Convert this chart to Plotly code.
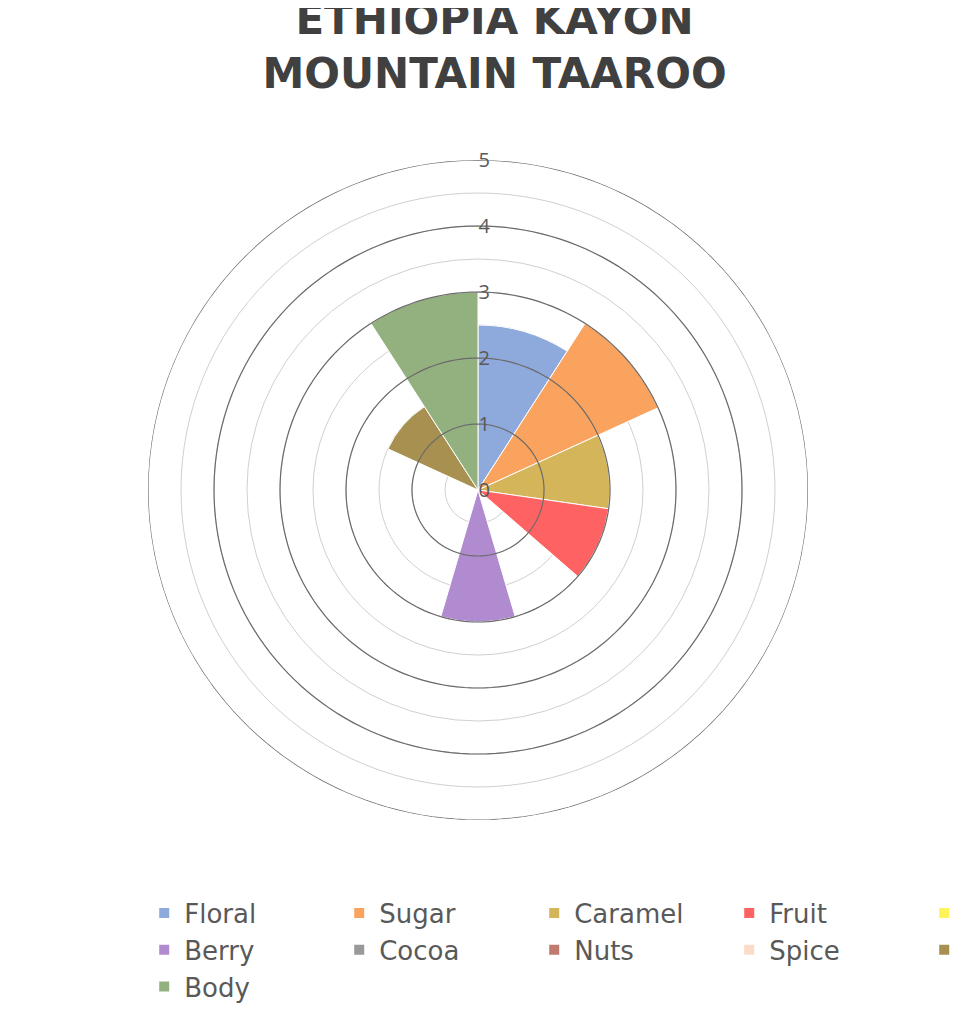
import plotly.graph_objects as go

categories = ["Floral","Sugar","Caramel","Fruit","Citrus","Berry","Cocoa","Nuts","Spice","Earthy","Body"]
values = [2.5, 3.0, 2.0, 2.0, 0, 2.0, 0, 0, 0, 1.5, 3.0]
colors = ["#8EA9DB","#F9A35F","#D4B55A","#FF6262","#FFF35A","#B08BD0","#999999","#C07A70","#FBDCC8","#A89050","#93B17F"]
ring_vals = [1, 2, 3, 4, 5]

n = len(categories)
w = 360 / n
fig = go.Figure()
for i, (c, v, col) in enumerate(zip(categories, values, colors)):
    fig.add_trace(go.Barpolar(r=[v], theta=[i * w + w / 2], width=[w], name=c,
                              marker=dict(color=col, line=dict(color="white", width=1))))
th = list(range(0, 361, 2))
for rv in ring_vals:
    fig.add_trace(go.Scatterpolar(r=[rv] * len(th), theta=th, mode="lines",
                                  line=dict(color="#6b6b6b", width=1.2), showlegend=False, hoverinfo="skip"))

halfs = [x / 2 for x in range(0, 11)]
fig.update_layout(
    width=973, height=1031, paper_bgcolor="white", plot_bgcolor="white",
    margin=dict(l=0, r=0, t=0, b=0, autoexpand=False),
    title=dict(text="ETHIOPIA KAYON<br>MOUNTAIN TAAROO", x=0.5, xanchor="center", y=0.975, yanchor="top",
               yref="container",
               font=dict(family="DejaVu Sans", size=42, color="#404040", weight="bold")),
    polar=dict(
        domain=dict(x=[140/973, 800/973], y=[1-812/1031, 1-152/1031]),
        bgcolor="white",
        angularaxis=dict(rotation=90, direction="clockwise", visible=False, showgrid=False),
        radialaxis=dict(range=[0, 5], angle=90, tickangle=90, tickvals=halfs,
                        ticktext=[str(int(x)) if x == int(x) else "" for x in halfs],
                        gridcolor="#d0d0d0", gridwidth=1, showline=False, ticks="",
                        tickfont=dict(size=20, color="#595959", family="Open Sans")),
    ),
    barmode="overlay",
    legend=dict(orientation="h", x=0.14, y=0.145, xanchor="left", yanchor="top",
                entrywidth=150, entrywidthmode="pixels", tracegroupgap=0,
                font=dict(size=26, color="#595959", family="DejaVu Sans"), itemsizing="constant"),
)
fig.write_html("out.html")
